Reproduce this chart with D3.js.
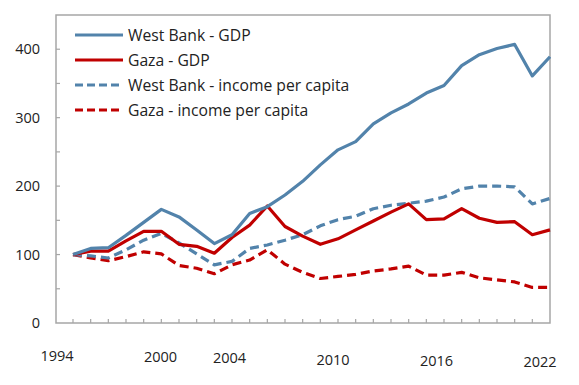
<!DOCTYPE html>
<html>
<head>
<meta charset="utf-8">
<script src="https://cdn.jsdelivr.net/npm/d3@7"></script>
<style>
  body { margin: 0; background: #fff; }
  svg text { font-family: "Open Sans", "Noto Sans", sans-serif; fill: #222; }
</style>
</head>
<body>
<svg id="chart" width="579" height="385"></svg>
<script>
// data: index 1994 = 100
const years = [1994, 1995, 1996, 1997, 1998, 1999, 2000, 2001, 2002, 2003, 2004, 2005, 2006, 2007,
               2008, 2009, 2010, 2011, 2012, 2013, 2014, 2015, 2016, 2017, 2018, 2019, 2020, 2021];
const wbGDP    = [100, 109, 110, 128, 147, 166, 155, 136, 116, 129, 160, 170, 187, 207,
                  231, 253, 265, 291, 307, 320, 336, 347, 376, 392, 401, 407, 361, 389];
const gazaGDP  = [100, 105, 105, 120, 134, 134, 115, 112, 102, 125, 143, 171, 141, 127,
                  115, 123, 136, 149, 162, 174, 151, 152, 167, 153, 147, 148, 129, 136];
const wbInc    = [100, 98, 95, 107, 121, 131, 117, 101, 85, 90, 109, 114, 121, 129,
                  142, 151, 156, 167, 172, 175, 178, 184, 196, 200, 200, 199, 174, 182];
const gazaInc  = [100, 95, 91, 97, 104, 101, 84, 80, 72, 85, 92, 107, 86, 74,
                  65, 68, 71, 76, 79, 83, 70, 70, 74, 66, 63, 60, 52, 52];
const xLabels = ["1994", "2000", "2004", "2010", "2016", "2022"];
const yTickValues = [0, 100, 200, 300, 400];

const series = [
  {name: "West Bank - GDP", values: wbGDP, color: "#5283ab", dash: null},
  {name: "Gaza - GDP", values: gazaGDP, color: "#c00000", dash: null},
  {name: "West Bank - income per capita", values: wbInc, color: "#5283ab", dash: "9,5"},
  {name: "Gaza - income per capita", values: gazaInc, color: "#c00000", dash: "9,5"}
];

const svg = d3.select("#chart");
const plotLeft = 56, plotRight = 550, plotTop = 15, plotBottom = 323;

const x = d3.scaleLinear([1994, 2021], [73, plotRight]);
const y = d3.scaleLinear([0, 450], [plotBottom, plotTop]);
// the year labels sit a bit off the data ticks in the original
const xLab = d3.scaleLinear([1994, 2022], [57, 540]);

const axisColor = "#a6a6a6";

// frame (left, top, right, bottom)
svg.append("path")
    .attr("d", `M${plotLeft},${plotTop}H${plotRight}V${plotBottom}H${plotLeft}Z`)
    .attr("fill", "none")
    .attr("stroke", axisColor)
    .attr("stroke-width", 1.5);

// x ticks, one per year, pointing in
svg.append("g")
    .selectAll("line")
    .data(years.slice(0, -1))
    .join("line")
      .attr("x1", d => x(d)).attr("x2", d => x(d))
      .attr("y1", plotBottom).attr("y2", plotBottom - 4)
      .attr("stroke", axisColor).attr("stroke-width", 1.2);

// y ticks every 50, pointing in
svg.append("g")
    .selectAll("line")
    .data(d3.range(50, 450, 50))
    .join("line")
      .attr("x1", plotLeft).attr("x2", plotLeft + 4)
      .attr("y1", d => y(d)).attr("y2", d => y(d))
      .attr("stroke", axisColor).attr("stroke-width", 1.2);

svg.append("g")
    .selectAll("text")
    .data(yTickValues)
    .join("text")
      .attr("x", 40)
      .attr("y", d => y(d))
      .attr("dy", "0.35em")
      .attr("text-anchor", "end")
      .style("font-size", "14.5px")
      .text(d => d);

svg.append("g")
    .selectAll("text")
    .data(xLabels)
    .join("text")
      .attr("x", d => xLab(+d))
      .attr("y", (d, i) => 361 + i * 1.2)
      .attr("text-anchor", "middle")
      .style("font-size", "14.5px")
      .text(d => d);

const line = d3.line()
    .x((d, i) => x(years[i]))
    .y(d => y(d));

svg.append("g")
    .selectAll("path")
    .data(series.slice().reverse())
    .join("path")
      .attr("d", d => line(d.values))
      .attr("fill", "none")
      .attr("stroke", d => d.color)
      .attr("stroke-width", 3.2)
      .attr("stroke-linejoin", "round")
      .attr("stroke-dasharray", d => d.dash);

// legend
const legend = svg.append("g")
    .selectAll("g")
    .data(series)
    .join("g")
      .attr("transform", (d, i) => `translate(75,${35 + i * 25})`);

legend.append("line")
    .attr("x1", 0).attr("x2", 48)
    .attr("stroke", d => d.color)
    .attr("stroke-width", 3.2)
    .attr("stroke-dasharray", d => d.dash ? "8,4" : null);

legend.append("text")
    .attr("x", 53)
    .attr("dy", "0.35em")
    .style("font-size", "15.7px")
    .text(d => d.name);
</script>
</body>
</html>
